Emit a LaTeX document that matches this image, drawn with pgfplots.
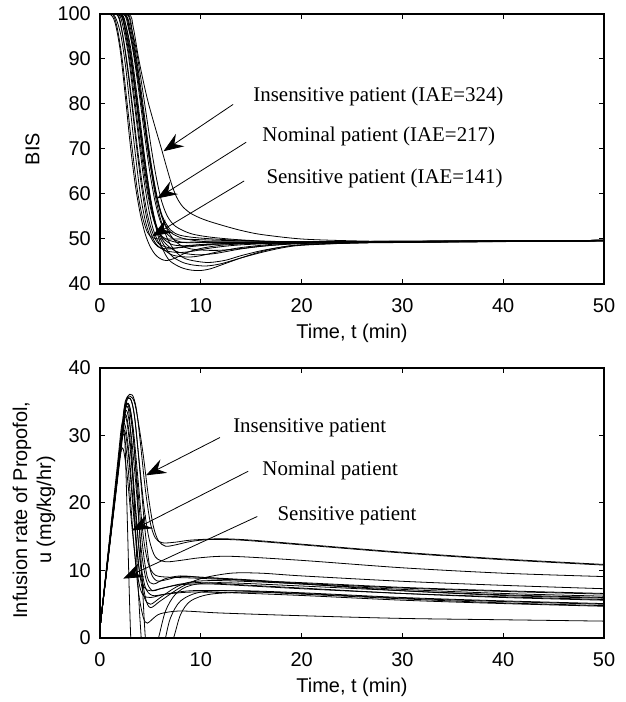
\documentclass[border=0pt]{standalone}
\usepackage{fontspec}
\setmainfont{Liberation Sans}
\newfontfamily\timesfont{Liberation Serif}
\usepackage{pgfplots}
\pgfplotsset{compat=1.18}
\usetikzlibrary{arrows.meta}
\tikzset{
  ann/.style={font=\timesfont\fontsize{21}{25}\selectfont, anchor=west, inner sep=0pt},
  arr/.style={-{Stealth[length=20bp,width=15bp,inset=7bp]}, line width=0.8bp, black},
}
\begin{document}
\fontsize{20}{24}\selectfont
\begin{tikzpicture}[x=1bp,y=1bp]
\path[use as bounding box] (0,0) rectangle (626,702);
\pgfplotsset{
  every axis/.append style={
    scale only axis, width=504bp, height=270bp,
    xmin=0, xmax=50, xtick={0,10,20,30,40,50},
    tick align=inside, major tick length=5bp,
    axis line style={line width=1.2bp},
    every tick/.style={black, line width=1bp},
    /pgf/number format/assume math mode=true,
    tick label style={font=\fontsize{20}{24}\selectfont},
    label style={font=\fontsize{20}{24}\selectfont},
    xticklabel style={inner sep=0pt, anchor=north, yshift=-14bp},
    yticklabel style={inner sep=0pt, anchor=east, xshift=-9bp},
    xlabel={Time, t (min)},
    xlabel style={at={(axis description cs:0.5,-0.1815)}, anchor=center},
  },
  pat/.style={black, line width=0.8bp, smooth, tension=0.5, no marks},
}
% ---------------- BIS ----------------
\begin{axis}[at={(100bp,418bp)}, anchor=south west,
  ymin=40, ymax=100, ytick={40,50,60,70,80,90,100},
  ylabel={BIS}, ylabel style={at={(axis description cs:-0.134,0.5)}, anchor=center}]
\addplot[pat] coordinates {(0,100)(1,100)(1.5,98)(2,92)(2.5,82)(3,71)(3.5,62)(4,55.5)(4.5,51)(5,48.2)(5.5,46.5)(6,45.6)(6.6,45.2)(7.5,45.8)(8.5,46.9)(10,47.9)(12,48.6)(15,49)(20,49.2)(30,49.4)(50,49.6)};
\addplot[pat] coordinates {(0,100)(1.3,100)(2,96)(2.5,89)(3,79)(3.5,69)(4,60)(4.5,54)(5,50.5)(5.5,48.8)(6,48)(7,47.8)(8,48.2)(10,48.7)(14,49)(20,49.2)(30,49.4)(50,49.6)};
\addplot[pat] coordinates {(0,100)(2,100)(2.5,98)(3,93)(3.5,85)(4,76)(4.5,67)(5,59)(5.5,53)(6,49)(6.5,46.5)(7,45)(8,43.7)(9,43.1)(10,43)(11,43.4)(12,44.2)(14,45.8)(16,47.2)(18,48.2)(20,48.7)(25,49.1)(30,49.3)(50,49.6)};
\addplot[pat] coordinates {(0,100)(2,100)(2.5,97)(3,91)(3.5,83)(4,74)(4.5,65.5)(5,58.5)(5.5,53.5)(6,50)(7,46.5)(8,45)(9,44.3)(10.5,44)(12,44.5)(14,45.8)(16,47)(18,48)(20,48.6)(25,49.1)(30,49.3)(50,49.6)};
\addplot[pat] coordinates {(0,100)(2.4,100)(3,97)(3.5,91)(4,83)(4.5,74.5)(5,66.5)(5.5,59.5)(6,54.5)(6.7,50)(7.5,47.2)(8.5,45.6)(10,44.9)(11,44.8)(12.5,45.3)(14,46.3)(16,47.4)(18,48.2)(20,48.7)(25,49.1)(50,49.6)};
\addplot[pat] coordinates {(0,100)(1.8,100)(2.3,97)(2.8,91)(3.3,82)(3.8,73)(4.3,64)(4.8,57)(5.3,52)(6,48.5)(7,46.6)(8,46.1)(9,46)(10,46.3)(12,47.3)(14,48.1)(17,48.8)(20,49.1)(30,49.4)(50,49.6)};
\addplot[pat] coordinates {(0,100)(1.6,100)(2.1,97)(2.6,90)(3.1,81)(3.6,71)(4.1,62)(4.6,55)(5.1,51)(5.6,48.8)(6.5,47.4)(8,47)(9.5,47.4)(11,48)(14,48.7)(20,49.2)(30,49.4)(50,49.6)};
\addplot[pat] coordinates {(0,100)(2.4,100)(2.9,97)(3.4,91.5)(3.9,84)(4.4,76)(4.9,68.5)(5.4,62)(5.9,57)(6.4,53.3)(7.2,50.2)(8,48.6)(9,47.8)(10.5,47.5)(12,47.5)(14,47.9)(16,48.4)(20,49)(25,49.3)(50,49.6)};
\addplot[pat] coordinates {(0,100)(2.3,100)(2.8,97)(3.3,92)(3.8,85)(4.3,77)(4.8,69)(5.3,62.5)(5.8,57.5)(6.3,54)(7,51.5)(8,50.3)(9,49.8)(10,49.5)(12,49.2)(15,49.1)(20,49.2)(30,49.4)(50,49.7)};
\addplot[pat] coordinates {(0,100)(1.9,100)(2.4,97.5)(2.9,92)(3.4,84)(3.9,75)(4.4,66)(4.9,59)(5.4,54)(6,50.8)(7,48.9)(8,48.5)(9,48.6)(11,48.9)(15,49.1)(20,49.2)(30,49.4)(50,49.6)};
\addplot[pat] coordinates {(0,100)(2.4,100)(2.9,96.5)(3.4,90)(3.9,82)(4.4,73.5)(4.9,65.5)(5.4,59)(5.9,54.5)(6.5,51.5)(7.5,49.7)(8.5,49.2)(10,49.2)(13,49.2)(20,49.3)(50,49.7)};
\addplot[pat] coordinates {(0,100)(1.2,100)(1.7,97)(2.2,90)(2.7,80)(3.2,70)(3.7,61)(4.2,55)(4.7,51.5)(5.2,50.3)(6,50)(8,50)(12,49.7)(20,49.4)(30,49.5)(50,49.7)};
\addplot[pat] coordinates {(0,100)(2.6,100)(3.1,97)(3.6,92)(4.1,85)(4.6,77.5)(5.1,70)(5.6,63.5)(6.1,58.5)(6.7,55)(7.5,52.8)(9,51.2)(11,50.4)(14,49.8)(18,49.4)(25,49.3)(50,49.7)};
\addplot[pat] coordinates {(0,100)(2.8,100)(3.3,97)(3.8,90.5)(4.3,85)(4.8,80.2)(5.5,74.6)(6.1,70)(6.6,66)(7.1,62.2)(7.6,59.3)(8.2,57.2)(9,55.7)(10,54.6)(11,53.8)(12.5,52.8)(14,51.9)(16,51)(20,50)(25,49.6)(30,49.5)(50,49.7)};
\addplot[pat] coordinates {(0,100)(1.7,100)(2.2,96)(2.7,89)(3.2,80)(3.7,70.5)(4.2,62)(4.7,55.5)(5.2,51.5)(5.8,49)(7,48)(8.5,48.2)(11,48.7)(15,49)(50,49.6)};
\addplot[pat] coordinates {(0,100)(2.1,100)(2.6,97)(3.1,90.5)(3.6,82)(4.1,73)(4.6,65)(5.1,58)(5.6,53)(6.3,49.5)(7.5,47.3)(9,46.6)(10,46.5)(11.5,46.8)(14,47.8)(17,48.6)(20,49)(30,49.4)(50,49.6)};
\addplot[pat] coordinates {(0,100)(2.7,100)(3.2,96)(3.7,89)(4.2,81)(4.7,72.5)(5.2,65)(5.7,59)(6.2,55)(7,52)(8,50.8)(10,50.2)(14,49.7)(20,49.4)(50,49.7)};
\addplot[pat] coordinates {(0,100)(2,100)(2.5,96)(3,89)(3.5,80)(4,71)(4.5,63)(5,57)(5.5,53)(6.2,50.5)(7.5,49.3)(9,49.3)(12,49.4)(20,49.4)(50,49.7)};
\node[ann] at (axis cs:15.2,81.6) {Insensitive patient (IAE=324)};
\node[ann] at (axis cs:16.1,72.7) {Nominal patient (IAE=217)};
\node[ann] at (axis cs:16.5,63.5) {Sensitive patient (IAE=141)};
\draw[arr] (axis cs:13.2,79.9) -- (axis cs:6.3,69.5);
\draw[arr] (axis cs:14.5,71.5) -- (axis cs:5.67,59);
\draw[arr] (axis cs:14.3,62.9) -- (axis cs:5.17,50.6);
\end{axis}
% ---------------- Infusion ----------------
\begin{axis}[at={(100bp,64bp)}, anchor=south west,
  ymin=0, ymax=40, ytick={0,10,20,30,40},
  ylabel={Infusion rate of Propofol,\\u (mg/kg/hr)},
  ylabel style={align=center, at={(axis description cs:-0.131,0.474)}, anchor=center}]
\addplot[pat] coordinates {(0,1.5)(2.2,30.1)(2.6,35.3)(3.0,35.8)(3.4,35)(3.8,32)(4.3,27)(4.8,21)(5.3,16.5)(5.8,14.4)(6.5,13.6)(7.5,13.8)(9,14.3)(11,14.6)(14,14.5)(20,13.8)(30,12.6)(40,11.6)(50,10.8)};
\addplot[pat] coordinates {(0,1.5)(2.3,30.5)(2.7,35.5)(3.2,36)(3.6,34)(4.0,29)(4.5,22)(5.0,17)(5.5,14.8)(6.2,14.1)(7.5,14.2)(9,14.5)(12,14.7)(15,14.5)(20,13.9)(30,12.7)(40,11.7)(50,10.9)};
\addplot[pat] coordinates {(0,1.5)(2.1,29.6)(2.5,35)(3.0,35.5)(3.4,33)(3.9,26)(4.4,19)(4.9,14.5)(5.5,12)(6.5,11.3)(8,11.5)(10,11.9)(13,12.1)(20,11.5)(30,10.4)(40,9.6)(50,9.1)};
\addplot[pat] coordinates {(0,1.5)(1.9,26.7)(2.3,32)(2.6,33)(3.0,29)(3.5,20)(4,11)(4.5,6)(5,4.5)(6,5.5)(8,7.5)(10,8.8)(13,9.6)(16,9.6)(20,9.2)(30,8.4)(40,7.8)(50,7.3)};
\addplot[pat] coordinates {(0,1.5)(2.0,28.6)(2.4,34)(2.8,34.5)(3.2,31)(3.7,23)(4.2,14)(4.7,9)(5.3,8)(6.5,8.8)(8,9.2)(10,9)(15,8.5)(20,8)(30,7.2)(40,6.6)(50,6.2)};
\addplot[pat] coordinates {(0,1.5)(1.8,25.6)(2.2,31)(2.5,31.5)(2.9,27)(3.4,18)(3.9,10)(4.4,6)(5,5)(6,6)(7.5,7.5)(9,8.3)(12,8.5)(20,8)(30,7)(40,6.3)(50,5.9)};
\addplot[pat] coordinates {(0,1.5)(1.7,25.3)(2.1,31)(2.3,32)(2.5,28)(2.7,18)(2.9,7)(3.05,0)(3.3,-8)(4,-15)(5,-12)(6,-4)(6.5,0)(7,3)(8,5.5)(10,6.8)(14,7)(20,6.7)(30,6)(40,5.5)(50,5.1)};
\addplot[pat] coordinates {(0,1.5)(2.1,28.8)(2.5,34)(2.9,34.5)(3.3,30)(3.8,19)(4.2,8)(4.5,0)(5,-8)(6,-6)(7.3,0)(8,3.5)(9,5.5)(11,6.5)(15,6.8)(20,6.5)(30,5.8)(40,5.2)(50,4.8)};
\addplot[pat] coordinates {(0,1.5)(1.7,23.8)(2.1,29)(2.4,30)(2.8,25)(3.3,15)(3.8,7)(4.3,3)(4.7,2.2)(5.2,2.8)(6,3.6)(8,4)(12,3.7)(20,3.3)(30,2.9)(40,2.7)(50,2.5)};
\addplot[pat] coordinates {(0,1.5)(2.0,27.7)(2.4,33)(2.7,33.5)(3.1,30)(3.6,22)(4.1,13)(4.6,8.5)(5.2,7)(6,7.3)(8,8)(10,8.2)(15,7.8)(20,7.4)(30,6.6)(40,6)(50,5.6)};
\addplot[pat] coordinates {(0,1.5)(2.2,29.9)(2.6,35)(3.1,35.2)(3.5,32)(4,24)(4.5,15.5)(5,10)(5.6,8.5)(6.5,8.6)(8,9.1)(10,9.0)(15,8.6)(20,8.1)(30,7.4)(40,6.9)(50,6.5)};
\addplot[pat] coordinates {(0,1.5)(1.6,21.9)(2.0,27)(2.3,28)(2.7,24)(3.2,16)(3.7,9.5)(4.2,6.5)(5,6)(6.5,6.5)(9,7)(13,7)(20,6.6)(30,5.9)(40,5.4)(50,5)};
\addplot[pat] coordinates {(0,1.5)(1.8,24.8)(2.2,30)(2.5,30.5)(2.9,26)(3.4,17)(3.9,10)(4.4,7.5)(5,7)(6,7.3)(8,7.9)(11,8)(15,7.7)(20,7.3)(30,6.6)(40,6.1)(50,5.7)};
\addplot[pat] coordinates {(0,1.5)(2.1,28.8)(2.5,34)(2.9,34.5)(3.3,31)(3.8,23)(4.3,15)(4.8,11)(5.5,9.3)(7,9)(9,8.9)(12,8.7)(20,8.2)(30,7.5)(40,7)(50,6.6)};
\addplot[pat] coordinates {(0,1.5)(1.9,26.7)(2.3,32)(2.6,32.5)(3.0,28)(3.5,19)(4,11.5)(4.5,7.5)(5.2,6.3)(6.5,6.5)(9,6.8)(13,6.7)(20,6.3)(30,5.6)(40,5.1)(50,4.7)};
\addplot[pat] coordinates {(0,1.5)(2.0,28.1)(2.4,33.5)(2.8,34)(3.1,29)(3.4,20)(3.7,10)(4.0,2)(4.3,-3)(5,-4)(5.8,0)(6.5,4)(7.5,6.5)(9,7.8)(12,8.2)(20,7.7)(30,7)(40,6.4)(50,6)};
\node[ann] at (axis cs:13.2,31.1) {Insensitive patient};
\node[ann] at (axis cs:16.1,24.8) {Nominal patient};
\node[ann] at (axis cs:17.6,18.1) {Sensitive patient};
\draw[arr] (axis cs:11.9,29.7) -- (axis cs:4.56,24.1);
\draw[arr] (axis cs:14.7,24.7) -- (axis cs:3.14,15.9);
\draw[arr] (axis cs:15.6,18.0) -- (axis cs:2.31,8.8);
\end{axis}
\end{tikzpicture}
\end{document}
